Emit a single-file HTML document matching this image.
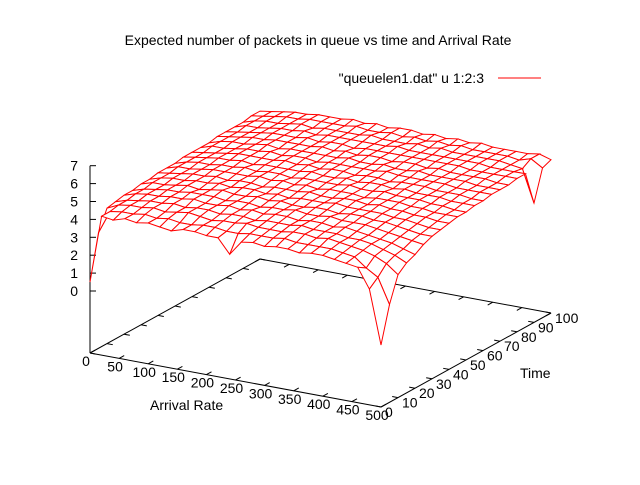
<!DOCTYPE html>
<html><head><meta charset="utf-8"><style>
body{margin:0;background:#fff}
svg text{font-family:"Liberation Sans",sans-serif;font-size:14px;fill:#000}
</style></head><body>
<svg width="640" height="480" viewBox="0 0 640 480">
<rect width="640" height="480" fill="#fff"/>
<text x="318" y="45" text-anchor="middle">Expected number of packets in queue vs time and Arrival Rate</text>
<text x="484" y="83" text-anchor="end">"queuelen1.dat" u 1:2:3</text>
<line x1="498" y1="78" x2="541" y2="78" stroke="#f00"/>
<g id="axes"></g>
<g id="surf"></g>
<g id="labels"></g>
<text x="150" y="410">Arrival Rate</text>
<text x="520" y="378">Time</text>
</svg>
<script>
const arrivalRates=[0,20,40,60,80,100,120,140,160,180,200,220,240,260,280,300,320,340,360,380,400,420,440,460,480,500];
const times=[0,5,10,15,20,25,30,35,40,45,50,55,60,65,70,75,80,85,90,95,100];
const zTicks=[0,1,2,3,4,5,6,7];
const xTicks=[0,50,100,150,200,250,300,350,400,450,500];
const tTicks=[0,10,20,30,40,50,60,70,80,90,100];
const queueLen=[
[0.5,4.3,4.2,4.4,4.3,4.4,4.3,4.2,4.4,4.4,4.3,4.3,3.5,4.3,4.4,4.3,4.4,4.4,4.3,4.4,4.4,4.3,4.2,4.1,3.0,0.0],
[3.0,4.3,4.4,4.4,4.5,4.4,4.5,4.4,4.4,4.5,4.5,4.4,4.4,4.5,4.5,4.5,4.6,4.5,4.5,4.5,4.5,4.4,4.3,3.8,3.4,2.0],
[4.1,4.4,4.5,4.5,4.6,4.5,4.6,4.7,4.6,4.5,4.6,4.6,4.7,4.6,4.6,4.6,4.7,4.7,4.6,4.7,4.6,4.5,4.4,4.2,3.9,3.4],
[4.2,4.4,4.5,4.6,4.6,4.7,4.6,4.7,4.7,4.6,4.7,4.7,4.6,4.7,4.7,4.7,4.8,4.7,4.7,4.7,4.6,4.6,4.5,4.3,4.1,3.8],
[4.3,4.5,4.6,4.6,4.7,4.7,4.8,4.7,4.7,4.8,4.7,4.8,4.7,4.8,4.8,4.7,4.8,4.8,4.7,4.8,4.7,4.6,4.5,4.4,4.2,4.0],
[4.3,4.5,4.6,4.7,4.7,4.8,4.8,4.8,4.7,4.8,4.8,4.7,4.8,4.8,4.9,4.8,4.8,4.9,4.8,4.8,4.8,4.7,4.6,4.5,4.4,4.3],
[4.4,4.6,4.6,4.7,4.8,4.7,4.8,4.9,4.8,4.8,4.9,4.8,4.9,4.8,4.8,4.9,4.9,4.8,4.9,4.9,4.8,4.8,4.7,4.6,4.5,4.5],
[4.4,4.6,4.7,4.7,4.8,4.8,4.9,4.8,4.9,4.9,4.8,4.9,4.8,4.9,4.9,4.9,5.0,4.9,4.9,4.9,4.9,4.8,4.8,4.7,4.6,4.6],
[4.5,4.6,4.7,4.8,4.8,4.9,4.8,4.9,4.9,4.8,4.9,4.9,4.9,5.0,4.9,4.9,5.0,5.0,4.9,5.0,4.9,4.9,4.8,4.8,4.7,4.7],
[4.5,4.7,4.7,4.8,4.9,4.9,4.9,4.9,5.0,4.9,5.0,4.9,5.0,4.9,5.0,5.0,5.0,4.9,5.0,5.0,5.0,4.9,4.9,4.8,4.8,4.8],
[4.5,4.7,4.8,4.8,4.9,4.9,5.0,4.9,5.0,5.0,4.9,5.0,5.0,5.0,5.0,5.1,5.0,5.0,5.1,5.0,5.0,5.0,4.9,4.9,4.8,4.8],
[4.6,4.7,4.8,4.9,4.9,5.0,4.9,5.0,5.0,5.0,5.0,5.1,5.0,5.0,5.1,5.0,5.1,5.1,5.0,5.1,5.0,5.0,5.0,4.9,4.9,4.9],
[4.6,4.7,4.8,4.9,5.0,5.0,5.0,5.0,5.1,5.0,5.1,5.0,5.1,5.1,5.0,5.1,5.1,5.0,5.1,5.1,5.1,5.0,5.0,5.0,4.9,4.9],
[4.6,4.8,4.8,4.9,5.0,5.0,5.1,5.0,5.1,5.1,5.0,5.1,5.1,5.1,5.1,5.1,5.2,5.1,5.1,5.1,5.1,5.1,5.0,5.0,5.0,5.0],
[4.6,4.8,4.9,4.9,5.0,5.1,5.0,5.1,5.1,5.1,5.1,5.1,5.2,5.1,5.1,5.2,5.1,5.1,5.2,5.1,5.1,5.1,5.1,5.0,5.0,5.0],
[4.7,4.8,4.9,5.0,5.0,5.1,5.1,5.1,5.1,5.2,5.1,5.2,5.1,5.2,5.2,5.1,5.2,5.2,5.1,5.2,5.1,5.1,5.1,5.1,5.0,5.0],
[4.7,4.8,4.9,5.0,5.1,5.1,5.1,5.2,5.1,5.2,5.2,5.1,5.2,5.2,5.2,5.2,5.2,5.2,5.2,5.2,5.2,5.1,5.1,5.1,5.1,5.1],
[4.7,4.9,4.9,5.0,5.1,5.1,5.2,5.1,5.2,5.2,5.2,5.2,5.2,5.2,5.3,5.2,5.2,5.2,5.2,5.2,5.2,5.2,5.1,5.1,5.1,5.1],
[4.7,4.9,5.0,5.0,5.1,5.2,5.1,5.2,5.2,5.2,5.2,5.3,5.2,5.2,5.2,5.3,5.2,5.3,5.2,5.2,5.2,5.2,5.2,5.1,5.0,3.2],
[4.8,4.9,5.0,5.1,5.1,5.2,5.2,5.2,5.2,5.3,5.2,5.2,5.3,5.2,5.3,5.2,5.3,5.2,5.3,5.2,5.2,5.2,5.2,5.1,5.3,4.9],
[4.8,4.9,5.0,5.1,5.1,5.2,5.2,5.2,5.3,5.2,5.3,5.2,5.3,5.3,5.2,5.3,5.2,5.3,5.2,5.3,5.2,5.2,5.2,5.2,5.3,5.1]
];
const NS="http://www.w3.org/2000/svg";
const X0=90,Y0=353,XR=500,TR=100;
const ex=[291,54],et=[170,-94],Z0=62,ZS=17.9;
function proj(x,t,z){
  const sx=X0+x/XR*ex[0]+t/TR*et[0];
  let sy=Y0+x/XR*ex[1]+t/TR*et[1];
  if(z!==null) sy-=Z0+z*ZS;
  return [sx,sy];
}
function el(tag,attrs,parent){const e=document.createElementNS(NS,tag);for(const k in attrs)e.setAttribute(k,attrs[k]);parent.appendChild(e);return e;}
const axes=document.getElementById('axes'),labels=document.getElementById('labels'),surf=document.getElementById('surf');
// base frame
const c=[proj(0,0,null),proj(XR,0,null),proj(XR,TR,null),proj(0,TR,null)];
for(let i=0;i<4;i++){
  const a=c[i],b=c[(i+1)%4];
  const ln=el('line',{x1:a[0],y1:a[1],x2:b[0],y2:b[1],stroke:'#000'},axes);
  
  
}
// z axis
const zb=proj(0,0,null),zt=proj(0,0,7);
const za=el('line',{x1:zb[0],y1:zb[1],x2:zt[0],y2:zt[1],stroke:'#000'},axes);


zTicks.forEach(z=>{
  const p=proj(0,0,z);
  const tk=el('line',{x1:p[0],y1:p[1],x2:p[0]+6,y2:p[1],stroke:'#000'},axes);
  
  
  const tx=el('text',{x:p[0]-12,y:p[1]+5,'text-anchor':'end'},labels);
  tx.textContent=z;
  
  
});
xTicks.forEach(x=>{
  const p=proj(x,0,null),q=proj(x,TR,null);
  const tk=el('line',{x1:p[0],y1:p[1],x2:p[0]+et[0]*0.03,y2:p[1]+et[1]*0.03,stroke:'#000'},axes);
  
  
  const tk2=el('line',{x1:q[0],y1:q[1],x2:q[0]-et[0]*0.03,y2:q[1]-et[1]*0.03,stroke:'#000'},axes);
  
  
  const tx=el('text',{x:p[0]-4,y:p[1]+13,'text-anchor':'middle'},labels);
  tx.textContent=x;
  
  
});
tTicks.forEach(t=>{
  const p=proj(XR,t,null),q=proj(0,t,null);
  const tk=el('line',{x1:p[0],y1:p[1],x2:p[0]-ex[0]*0.02,y2:p[1]-ex[1]*0.02,stroke:'#000'},axes);
  
  
  const tk2=el('line',{x1:q[0],y1:q[1],x2:q[0]+ex[0]*0.02,y2:q[1]+ex[1]*0.02,stroke:'#000'},axes);
  
  
  const tx=el('text',{x:p[0]+4,y:p[1]+10,'text-anchor':'start'},labels);
  tx.textContent=t;
  
  
});
// surface quads, far to near
const quads=[];
for(let j=0;j<times.length-1;j++)for(let i=0;i<arrivalRates.length-1;i++)quads.push([i,j]);
quads.sort((a,b)=>(b[1]/times.length - b[0]/arrivalRates.length)-(a[1]/times.length - a[0]/arrivalRates.length));
quads.forEach(([i,j])=>{
  const pts=[[i,j],[i+1,j],[i+1,j+1],[i,j+1]].map(([a,b])=>proj(arrivalRates[a],times[b],queueLen[b][a]));
  const pg=el('polygon',{points:pts.map(p=>p[0].toFixed(1)+','+p[1].toFixed(1)).join(' '),fill:'#fff',stroke:'#f00','stroke-width':1},surf);
  
  
});
</script>
</body></html>
